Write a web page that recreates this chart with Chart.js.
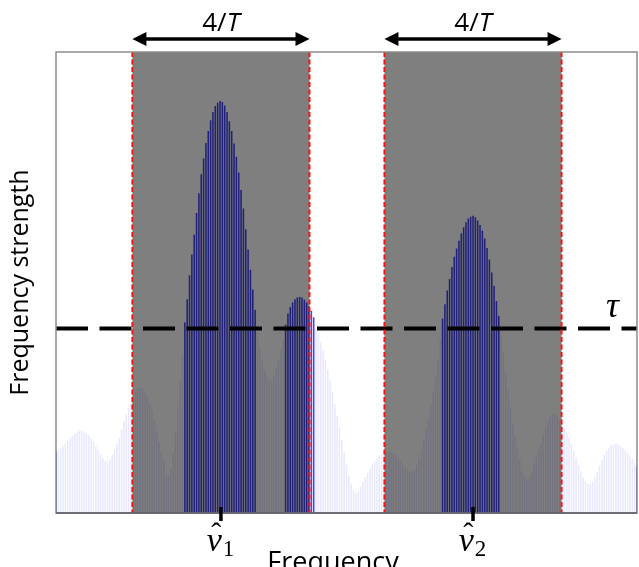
<!DOCTYPE html>
<html>
<head>
<meta charset="utf-8">
<title>Frequency strength</title>
<script src="https://cdn.jsdelivr.net/npm/chart.js@4.4.1/dist/chart.umd.min.js"></script>
<style>
  html, body { margin: 0; padding: 0; background: #fff; overflow: hidden; }
  #wrap { position: relative; width: 639px; height: 567px; }
</style>
</head>
<body>
<div id="wrap"><canvas id="spectrum"></canvas></div>
<script>
// frequency strength per bin (0 = floor, 100 = top of frame)
const binsLeft = [
  13.3, 13.6, 14.0, 14.4, 15.0, 15.6, 16.2, 16.7, 17.1, 17.4,
  17.7, 17.8, 17.6, 17.2, 16.8, 16.1, 15.3, 14.5, 13.6, 12.6,
  11.8, 11.3, 11.1, 11.6, 12.5, 13.6, 14.9, 16.2, 18.0, 19.8,
  21.4, 22.7, 23.8, 24.8
];
const binsWindow1 = [
  26.2, 27.0, 27.1, 26.8, 26.0, 25.0, 23.9, 22.2, 20.0, 17.8,
  15.4, 13.2, 11.2, 8.6, 8.2, 9.4, 12.8, 17.5, 23.0, 28.4,
  34.5, 41.3, 46.3, 51.5, 56.0, 60.3, 65.0, 69.3, 73.4, 76.8,
  80.2, 82.8, 85.1, 86.9, 88.2, 88.9, 89.3, 89.1, 88.3, 86.9,
  84.9, 82.8, 80.1, 77.2, 73.8, 70.0, 66.0, 61.5, 57.1, 52.7,
  48.4, 44.0, 39.0, 36.2, 33.0, 30.9, 29.5, 28.7, 28.6, 29.6,
  31.2, 33.3, 35.4, 37.5, 40.8, 43.2, 44.6, 45.6, 46.3, 46.7,
  46.8, 46.7, 46.2, 45.6, 44.8
];
const binsGap = [
  43.8, 42.4, 39.8, 38.7, 37.0, 35.2, 33.2, 31.0, 28.6, 26.2,
  23.6, 21.0, 18.4, 15.8, 13.0, 10.4, 8.0, 6.1, 4.9, 4.3,
  4.6, 5.6, 6.7, 7.7, 8.6, 9.5, 10.4, 11.1, 11.7, 12.2,
  12.6, 12.9
];
const binsWindow2 = [
  13.1, 13.2, 13.1, 12.9, 12.5, 11.9, 11.2, 10.5, 9.8, 9.2,
  8.9, 8.8, 9.3, 10.3, 11.8, 13.7, 15.8, 18.2, 20.6, 23.3,
  26.4, 29.6, 33.2, 37.6, 42.1, 45.2, 48.2, 50.7, 53.3, 55.5,
  57.3, 59.0, 60.6, 61.9, 63.0, 63.8, 64.2, 64.4, 64.1, 63.4,
  62.4, 61.2, 59.5, 57.4, 54.9, 52.1, 49.2, 45.9, 42.7, 38.5,
  34.8, 30.4, 26.7, 22.8, 19.4, 16.9, 14.3, 11.7, 9.1, 7.8,
  7.2, 7.6, 8.8, 10.4, 12.0, 13.7, 15.3, 16.9, 18.4, 19.8,
  20.9, 21.4, 21.5, 21.0, 20.2, 19.1
];
const binsRight = [
  18.2, 17.3, 16.3, 14.9, 13.4, 11.9, 10.3, 8.9, 7.6, 6.7,
  6.2, 6.2, 6.8, 7.7, 8.8, 10.2, 11.4, 12.5, 13.4, 14.1,
  14.6, 14.8, 14.9, 14.8, 14.4, 14.0, 13.5, 13.0, 12.3, 11.6,
  10.8, 10.0
];

const tau = 40;                 // threshold
const nuHat = [70.4, 178.0];    // estimated frequencies (bin units)
const nuSubs = ['1', '2'];
const halfWindow = 37.8;        // 2/T in bins, window is 4/T wide

const bins = [...binsLeft, ...binsWindow1, ...binsGap, ...binsWindow2, ...binsRight];
const lastBin = bins.length - 1;

const barColours = bins.map((v, i) => {
    if (v > tau || i === 0 || i === lastBin) return 'rgba(20, 20, 240, 0.8)';
    return 'rgba(0, 0, 255, 0.09)';
});

const nuFont = 'italic 34px "Liberation Serif"';
const subFont = '23px "Liberation Serif"';

const overlays = {
    id: 'overlays',
    afterDatasetsDraw(chart) {
        const { ctx, chartArea: a, scales: { x } } = chart;
        ctx.save();
        nuHat.forEach(c => {
            const l = x.getPixelForValue(c - halfWindow);
            const r = x.getPixelForValue(c + halfWindow);
            ctx.fillStyle = 'rgba(0, 0, 0, 0.5)';
            ctx.fillRect(l, a.top, r - l, a.bottom - a.top);
            ctx.strokeStyle = '#ff1010';
            ctx.lineWidth = 2;
            ctx.setLineDash([5, 2.5]);
            [l, r].forEach(px => {
                ctx.beginPath();
                ctx.moveTo(px, a.top);
                ctx.lineTo(px, a.bottom);
                ctx.stroke();
            });
            ctx.setLineDash([]);
        });
        ctx.restore();
    },
    afterDraw(chart) {
        const { ctx, chartArea: a, scales: { x, y } } = chart;
        ctx.save();

        // frame
        ctx.strokeStyle = '#8c8c8c';
        ctx.lineWidth = 1.5;
        ctx.strokeRect(a.left, a.top, a.right - a.left, a.bottom - a.top);
        ctx.strokeStyle = '#5a5a6a';
        ctx.beginPath();
        ctx.moveTo(a.left, a.bottom);
        ctx.lineTo(a.right, a.bottom);
        ctx.stroke();

        // 4/T arrows above each window
        const ay = a.top - 13;
        nuHat.forEach(c => {
            const l = x.getPixelForValue(c - halfWindow);
            const r = x.getPixelForValue(c + halfWindow);
            ctx.strokeStyle = '#000';
            ctx.fillStyle = '#000';
            ctx.lineWidth = 3.5;
            ctx.beginPath();
            ctx.moveTo(l + 10, ay);
            ctx.lineTo(r - 10, ay);
            ctx.stroke();
            ctx.beginPath();
            ctx.moveTo(l, ay);
            ctx.lineTo(l + 14, ay - 7);
            ctx.lineTo(l + 14, ay + 7);
            ctx.closePath();
            ctx.fill();
            ctx.beginPath();
            ctx.moveTo(r, ay);
            ctx.lineTo(r - 14, ay - 7);
            ctx.lineTo(r - 14, ay + 7);
            ctx.closePath();
            ctx.fill();

            ctx.textBaseline = 'alphabetic';
            ctx.textAlign = 'left';
            ctx.font = '26px "Open Sans"';
            const w1 = ctx.measureText('4/').width;
            ctx.font = 'italic 26px "Open Sans"';
            const w2 = ctx.measureText('T').width;
            const sx = (l + r) / 2 - (w1 + w2) / 2;
            ctx.font = '26px "Open Sans"';
            ctx.fillText('4/', sx, a.top - 21);
            ctx.font = 'italic 26px "Open Sans"';
            ctx.fillText('T', sx + w1, a.top - 21);
        });

        // tick marks and hat-nu labels
        x.ticks.forEach((t, k) => {
            const px = x.getPixelForValue(t.value);
            ctx.fillStyle = '#000';
            ctx.fillRect(px - 1.75, a.bottom - 6, 3.5, 14);
            ctx.textAlign = 'left';
            ctx.font = nuFont;
            const wn = ctx.measureText('ν').width;
            ctx.font = subFont;
            const ws = ctx.measureText(nuSubs[k]).width;
            const sx = px - (wn + ws) / 2 - 1;
            ctx.font = nuFont;
            ctx.fillText('ν', sx, a.bottom + 38);
            ctx.font = subFont;
            ctx.fillText(nuSubs[k], sx + wn + 1, a.bottom + 43);
            ctx.textAlign = 'center';
            ctx.font = '30px "Liberation Serif"';
            ctx.fillText('ˆ', sx + wn / 2 + 2, a.bottom + 30);
        });

        // tau label
        ctx.textAlign = 'left';
        ctx.font = 'italic 36px "Liberation Serif"';
        ctx.fillText('τ', a.right - 31, y.getPixelForValue(tau) - 12);

        // x axis title (cut off by the bottom edge, as in the figure)
        ctx.textAlign = 'center';
        ctx.font = '27px "Open Sans"';
        ctx.fillText('Frequency', a.left + 277, a.bottom + 58);
        ctx.restore();
    }
};

new Chart(document.getElementById('spectrum'), {
    type: 'bar',
    data: {
        datasets: [
            {
                type: 'line',
                data: [{ x: 0, y: tau }, { x: lastBin, y: tau }],
                borderColor: '#000',
                borderWidth: 4,
                borderDash: [32, 11.5],
                pointRadius: 0,
                order: 0
            },
            {
                type: 'bar',
                data: bins.map((v, i) => ({ x: i, y: v })),
                backgroundColor: barColours,
                barThickness: 0.9,
                order: 1
            }
        ]
    },
    options: {
        responsive: true,
        maintainAspectRatio: false,
        animation: false,
        layout: { padding: { top: 52, right: 2, left: 0, bottom: 0 } },
        plugins: {
            legend: { display: false },
            tooltip: { enabled: false }
        },
        scales: {
            x: {
                type: 'linear',
                min: 0,
                max: lastBin,
                offset: false,
                grid: { display: false },
                border: { display: false },
                ticks: { display: false },
                afterBuildTicks: s => { s.ticks = nuHat.map(v => ({ value: v })); },
                afterFit: s => { s.height = 54; }
            },
            y: {
                min: 0,
                max: 100,
                grid: { display: false },
                border: { display: false },
                ticks: { display: false },
                title: {
                    display: true,
                    text: 'Frequency strength',
                    color: '#000',
                    font: { family: 'Open Sans', size: 25 },
                    padding: { top: 6, bottom: 0 }
                },
                afterFit: s => { s.width = 56; }
            }
        }
    },
    plugins: [overlays]
});
</script>
</body>
</html>
